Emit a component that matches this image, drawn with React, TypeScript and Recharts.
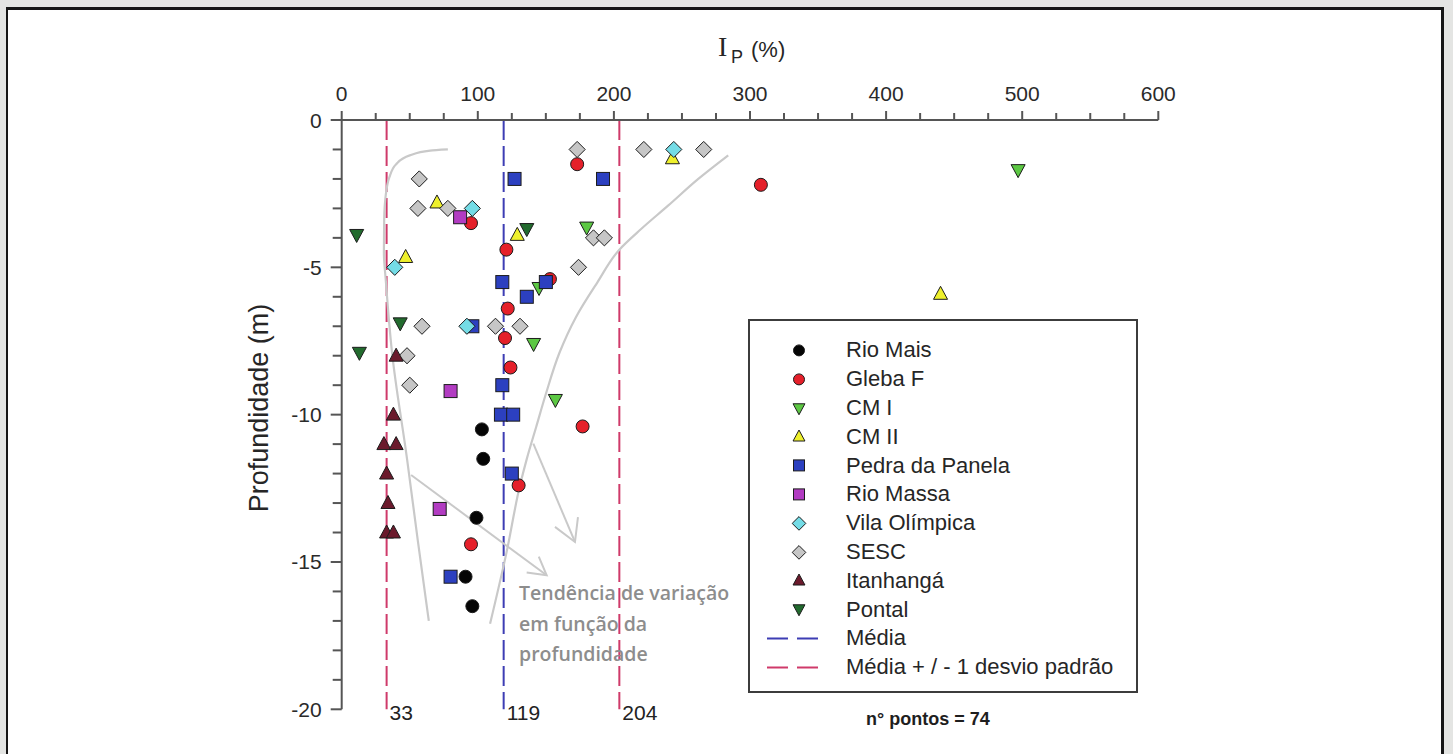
import React from 'react';
import { ScatterChart, Scatter, XAxis, YAxis, ReferenceLine, Legend } from 'recharts';

// ---- axis ticks ----
const X_TICKS = [0, 25, 50, 75, 100, 125, 150, 175, 200, 225, 250, 275, 300, 325, 350, 375, 400, 425, 450, 475, 500, 525, 550, 575, 600];
const X_LABELED = [0, 100, 200, 300, 400, 500, 600];
const Y_TICKS = [0, -1, -2, -3, -4, -5, -6, -7, -8, -9, -10, -11, -12, -13, -14, -15, -16, -17, -18, -19, -20];
const Y_LABELED = [0, -5, -10, -15, -20];

// ---- series: x = Ip (%), y = profundidade (m) ----
const rioMais = [
  { x: 103, y: -10.5 }, { x: 104, y: -11.5 }, { x: 99, y: -13.5 }, { x: 91, y: -15.5 }, { x: 96, y: -16.5 },
];
const glebaF = [
  { x: 173, y: -1.5 }, { x: 308, y: -2.2 }, { x: 95, y: -3.5 }, { x: 121, y: -4.4 }, { x: 153, y: -5.4 },
  { x: 122, y: -6.4 }, { x: 120, y: -7.4 }, { x: 124, y: -8.4 }, { x: 177, y: -10.4 }, { x: 130, y: -12.4 },
  { x: 95, y: -14.4 },
];
const cmI = [
  { x: 497, y: -1.7 }, { x: 180, y: -3.65 }, { x: 145, y: -5.7 }, { x: 141, y: -7.6 }, { x: 157, y: -9.5 },
];
const cmII = [
  { x: 243, y: -1.3 }, { x: 440, y: -5.9 }, { x: 70, y: -2.8 }, { x: 129, y: -3.9 }, { x: 47, y: -4.65 },
];
const pedraDaPanela = [
  { x: 127, y: -2 }, { x: 192, y: -2 }, { x: 118, y: -5.5 }, { x: 150, y: -5.5 }, { x: 136, y: -6 },
  { x: 96, y: -7 }, { x: 118, y: -9 }, { x: 117, y: -10 }, { x: 126, y: -10 }, { x: 125, y: -12 },
  { x: 80, y: -15.5 },
];
const rioMassa = [
  { x: 87, y: -3.3 }, { x: 80, y: -9.2 }, { x: 72, y: -13.2 },
];
const vilaOlimpica = [
  { x: 244, y: -1 }, { x: 96, y: -3 }, { x: 39, y: -5 }, { x: 92, y: -7 },
];
const sesc = [
  { x: 173, y: -1 }, { x: 222, y: -1 }, { x: 266, y: -1 }, { x: 57, y: -2 }, { x: 56, y: -3 },
  { x: 78, y: -3 }, { x: 185, y: -4 }, { x: 193, y: -4 }, { x: 174, y: -5 }, { x: 59, y: -7 },
  { x: 113, y: -7 }, { x: 131, y: -7 }, { x: 48, y: -8 }, { x: 50, y: -9 },
];
const itanhanga = [
  { x: 40, y: -8 }, { x: 38, y: -10 }, { x: 31, y: -11 }, { x: 40, y: -11 }, { x: 33, y: -12 },
  { x: 34, y: -13 }, { x: 33, y: -14 }, { x: 38, y: -14 },
];
const pontal = [
  { x: 11, y: -3.9 }, { x: 136, y: -3.7 }, { x: 43, y: -6.9 }, { x: 13, y: -7.9 },
];

// ---- statistics (reference lines) ----
const MEDIA = 119;
const MEDIA_MENOS = 33;
const MEDIA_MAIS = 204;

// ---- hand-drawn trend annotations (data coordinates) ----
const trendLeft = [
  { x: 78, y: -1.0 }, { x: 65, y: -1.04 }, { x: 50, y: -1.2 }, { x: 40, y: -1.5 }, { x: 35, y: -1.95 },
  { x: 32.5, y: -2.5 }, { x: 31.2, y: -3.4 }, { x: 31, y: -4.5 }, { x: 32.5, y: -5.5 }, { x: 37, y: -7.9 },
  { x: 48, y: -11.5 }, { x: 56, y: -14.3 }, { x: 64, y: -17 },
];
const trendRight = [
  { x: 284, y: -1.2 }, { x: 262, y: -2.0 }, { x: 240, y: -2.9 }, { x: 220, y: -3.7 }, { x: 204, y: -4.4 },
  { x: 188, y: -5.5 }, { x: 172, y: -6.7 }, { x: 160, y: -7.9 }, { x: 150, y: -9.3 }, { x: 143, y: -10.4 },
  { x: 136, y: -11.5 }, { x: 131, y: -12.4 }, { x: 121, y: -14.7 }, { x: 109, y: -17.1 },
];
const arrowA = [{ x: 51, y: -12.05 }, { x: 150.6, y: -15.45 }];
const arrowAHead = [{ x: 144.8, y: -14.82 }, { x: 150.6, y: -15.45 }, { x: 135.9, y: -15.36 }];
const arrowB = [{ x: 140.8, y: -10.98 }, { x: 171.4, y: -14.32 }];
const arrowBHead = [{ x: 173.6, y: -13.48 }, { x: 171.4, y: -14.32 }, { x: 156.7, y: -13.81 }];

type Kind = 'circle' | 'square' | 'diamond' | 'triUp' | 'triDown';

const SERIES: { name: string; data: { x: number; y: number }[]; fill: string; kind: Kind }[] = [
  { name: 'Rio Mais', data: rioMais, fill: '#050505', kind: 'circle' },
  { name: 'Gleba F', data: glebaF, fill: '#e5202a', kind: 'circle' },
  { name: 'CM I', data: cmI, fill: '#5cc843', kind: 'triDown' },
  { name: 'CM II', data: cmII, fill: '#eef02c', kind: 'triUp' },
  { name: 'Pedra da Panela', data: pedraDaPanela, fill: '#2c40c0', kind: 'square' },
  { name: 'Rio Massa', data: rioMassa, fill: '#b23cc2', kind: 'square' },
  { name: 'Vila Olímpica', data: vilaOlimpica, fill: '#74dce6', kind: 'diamond' },
  { name: 'SESC', data: sesc, fill: '#c6c6c6', kind: 'diamond' },
  { name: 'Itanhangá', data: itanhanga, fill: '#6b1a2c', kind: 'triUp' },
  { name: 'Pontal', data: pontal, fill: '#226b2e', kind: 'triDown' },
];

const BLUE = '#3d3db4';
const PINK = '#cf3a6a';
const AXIS = '#555';
const TREND = '#c9c9c9';
const SANS = 'Liberation Sans, Arial, sans-serif';

function MarkerShape({ kind, cx, cy, fill, s }: { kind: Kind; cx: number; cy: number; fill: string; s: number }) {
  const stroke = '#1c1c1c';
  const sw = 1;
  if (kind === 'circle') return <circle cx={cx} cy={cy} r={s / 2} fill={fill} stroke={stroke} strokeWidth={sw} />;
  if (kind === 'square') return <rect x={cx - s / 2} y={cy - s / 2} width={s} height={s} fill={fill} stroke={stroke} strokeWidth={sw} />;
  if (kind === 'diamond') {
    const h = s * 0.62;
    return <polygon points={`${cx},${cy - h} ${cx + h},${cy} ${cx},${cy + h} ${cx - h},${cy}`} fill={fill} stroke={stroke} strokeWidth={sw} />;
  }
  const w = s * 1.08;
  const hh = s;
  if (kind === 'triUp') {
    return <polygon points={`${cx},${cy - hh * 0.58} ${cx + w / 2},${cy + hh * 0.42} ${cx - w / 2},${cy + hh * 0.42}`} fill={fill} stroke={stroke} strokeWidth={sw} />;
  }
  return <polygon points={`${cx},${cy + hh * 0.58} ${cx + w / 2},${cy - hh * 0.42} ${cx - w / 2},${cy - hh * 0.42}`} fill={fill} stroke={stroke} strokeWidth={sw} />;
}

const makeShape = (kind: Kind, fill: string) => (props: any) => {
  if (props.cx == null || props.cy == null) return <g />;
  return <MarkerShape kind={kind} cx={props.cx} cy={props.cy} fill={fill} s={13} />;
};

const NoShape = () => <g />;

const XTick = (props: any) => {
  const { x, y, payload } = props;
  const v = payload.value;
  const major = X_LABELED.includes(v);
  return (
    <g>
      <line x1={x} x2={x} y1={y} y2={y - (major ? 9 : 7)} stroke={AXIS} strokeWidth={2} />
      {major && (
        <text x={x} y={y - 27} textAnchor="middle" dominantBaseline="central" fontSize={21} fill="#2a2a2a" fontFamily={SANS}>
          {v}
        </text>
      )}
    </g>
  );
};

const YTick = (props: any) => {
  const { x, y, payload } = props;
  const v = payload.value;
  const major = Y_LABELED.includes(v);
  return (
    <g>
      <line x1={x} x2={x - (major ? 11 : 9)} y1={y} y2={y} stroke={AXIS} strokeWidth={2} />
      {major && (
        <text x={x - 20} y={y} textAnchor="end" dominantBaseline="central" fontSize={21} fill="#2a2a2a" fontFamily={SANS}>
          {v}
        </text>
      )}
    </g>
  );
};

const refLabel = (text: string) => (p: any) => {
  const vb = p.viewBox || {};
  return (
    <text x={(vb.x || 0) + 3} y={(vb.y || 0) + (vb.height || 0) + 3} dominantBaseline="central" fontSize={21} fill="#222" fontFamily={SANS}>
      {text}
    </text>
  );
};

const LegendBox = () => {
  const rows: React.ReactNode[] = [];
  const rowH = 28.8;
  SERIES.forEach((s, i) => {
    rows.push(
      <div key={s.name} style={{ position: 'absolute', left: 0, top: 15 + i * rowH, height: rowH, width: '100%', display: 'flex', alignItems: 'center' }}>
        <svg width={90} height={rowH} style={{ flex: 'none' }}>
          <MarkerShape kind={s.kind} cx={49} cy={rowH / 2} fill={s.fill} s={11} />
        </svg>
        <span style={{ marginLeft: 6 }}>{s.name}</span>
      </div>
    );
  });
  const lines = [
    { name: 'Média', color: BLUE },
    { name: 'Média + / - 1 desvio padrão', color: PINK },
  ];
  lines.forEach((l, j) => {
    const i = SERIES.length + j;
    rows.push(
      <div key={l.name} style={{ position: 'absolute', left: 0, top: 15 + i * rowH, height: rowH, width: '100%', display: 'flex', alignItems: 'center' }}>
        <svg width={90} height={rowH} style={{ flex: 'none' }}>
          <line x1={17} x2={72} y1={rowH / 2} y2={rowH / 2} stroke={l.color} strokeWidth={2} strokeDasharray="21 9" />
        </svg>
        <span style={{ marginLeft: 6 }}>{l.name}</span>
      </div>
    );
  });
  return (
    <div
      style={{
        position: 'relative',
        width: 390,
        height: 374,
        boxSizing: 'border-box',
        border: '2px solid #3c3c3c',
        background: '#fff',
        fontFamily: SANS,
        fontSize: 22,
        color: '#262626',
        whiteSpace: 'nowrap',
      }}
    >
      {rows}
    </div>
  );
};

export default function App() {
  return (
    <div style={{ position: 'absolute', left: 0, top: 0, width: 1453, height: 754, background: '#e4e5e3', overflow: 'hidden' }}>
      <div
        style={{
          position: 'absolute',
          left: 6,
          top: 7,
          width: 1438,
          height: 800,
          boxSizing: 'border-box',
          borderLeft: '2px solid #161616',
          borderTop: '3px solid #161616',
          borderRight: '3px solid #161616',
          background: '#ffffff',
        }}
      />
      <div style={{ position: 'absolute', left: 0, top: 0 }}>
        <ScatterChart width={1453} height={754} margin={{ top: 90, left: 281.7, right: 294.7, bottom: 44.7 }}>
          <XAxis
            xAxisId={0}
            type="number"
            dataKey="x"
            orientation="top"
            domain={[0, 600]}
            ticks={X_TICKS}
            interval={0}
            allowDataOverflow
            height={30}
            tickSize={0}
            tickMargin={0}
            tickLine={false}
            axisLine={{ stroke: AXIS, strokeWidth: 2 }}
            tick={XTick}
          />
          <YAxis
            yAxisId={0}
            type="number"
            dataKey="y"
            domain={[-20, 0]}
            ticks={Y_TICKS}
            interval={0}
            allowDataOverflow
            width={60}
            tickSize={0}
            tickMargin={0}
            tickLine={false}
            axisLine={{ stroke: AXIS, strokeWidth: 2 }}
            tick={YTick}
          />

          <ReferenceLine x={MEDIA_MENOS} stroke={PINK} strokeWidth={2} strokeDasharray="20 6" label={refLabel(String(MEDIA_MENOS))} />
          <ReferenceLine x={MEDIA} stroke={BLUE} strokeWidth={2} strokeDasharray="20 6" label={refLabel(String(MEDIA))} />
          <ReferenceLine x={MEDIA_MAIS} stroke={PINK} strokeWidth={2} strokeDasharray="20 6" label={refLabel(String(MEDIA_MAIS))} />

          <Scatter data={trendLeft} line={{ stroke: TREND, strokeWidth: 2.2 }} lineType="joint" lineJointType="monotoneY" shape={NoShape} isAnimationActive={false} legendType="none" />
          <Scatter data={trendRight} line={{ stroke: TREND, strokeWidth: 2.2 }} lineType="joint" lineJointType="monotoneY" shape={NoShape} isAnimationActive={false} legendType="none" />
          <Scatter data={arrowA} line={{ stroke: TREND, strokeWidth: 2 }} lineType="joint" shape={NoShape} isAnimationActive={false} legendType="none" />
          <Scatter data={arrowAHead} line={{ stroke: TREND, strokeWidth: 2 }} lineType="joint" shape={NoShape} isAnimationActive={false} legendType="none" />
          <Scatter data={arrowB} line={{ stroke: TREND, strokeWidth: 2 }} lineType="joint" shape={NoShape} isAnimationActive={false} legendType="none" />
          <Scatter data={arrowBHead} line={{ stroke: TREND, strokeWidth: 2 }} lineType="joint" shape={NoShape} isAnimationActive={false} legendType="none" />

          {SERIES.map((s) => (
            <Scatter key={s.name} name={s.name} data={s.data} fill={s.fill} shape={makeShape(s.kind, s.fill)} isAnimationActive={false} />
          ))}

          <Legend
            layout="horizontal"
            verticalAlign="middle"
            align="center"
            content={() => <LegendBox />}
            wrapperStyle={{ position: 'absolute', left: 748, top: 319, width: 390, height: 374, bottom: 'auto', right: 'auto' }}
          />
        </ScatterChart>
      </div>

      {/* axis title */}
      <svg width={1453} height={80} style={{ position: 'absolute', left: 0, top: 0, pointerEvents: 'none' }}>
        <text x={718} y={56} fontFamily="Liberation Serif, serif" fontSize={28} fill="#262626">I</text>
        <text x={731} y={63} fontFamily={SANS} fontSize={18} fill="#262626">P</text>
        <text x={751} y={57} fontFamily={SANS} fontSize={22} fill="#262626">(%)</text>
      </svg>

      <div
        style={{
          position: 'absolute',
          left: 259,
          top: 408,
          transform: 'translate(-50%, -50%) rotate(-90deg)',
          fontFamily: SANS,
          fontSize: 27,
          color: '#262626',
          whiteSpace: 'nowrap',
        }}
      >
        Profundidade (m)
      </div>

      <div
        style={{
          position: 'absolute',
          left: 519,
          top: 578,
          fontFamily: 'Open Sans, sans-serif',
          fontWeight: 600,
          fontSize: 19.5,
          lineHeight: '30.5px',
          color: '#8d8d8d',
          whiteSpace: 'nowrap',
        }}
      >
        Tendência de variação
        <br />
        em função da
        <br />
        profundidade
      </div>

      <div
        style={{
          position: 'absolute',
          left: 866,
          top: 709,
          fontFamily: SANS,
          fontWeight: 700,
          fontSize: 18,
          color: '#1e1e1e',
          whiteSpace: 'nowrap',
        }}
      >
        n° pontos = 74
      </div>
    </div>
  );
}
